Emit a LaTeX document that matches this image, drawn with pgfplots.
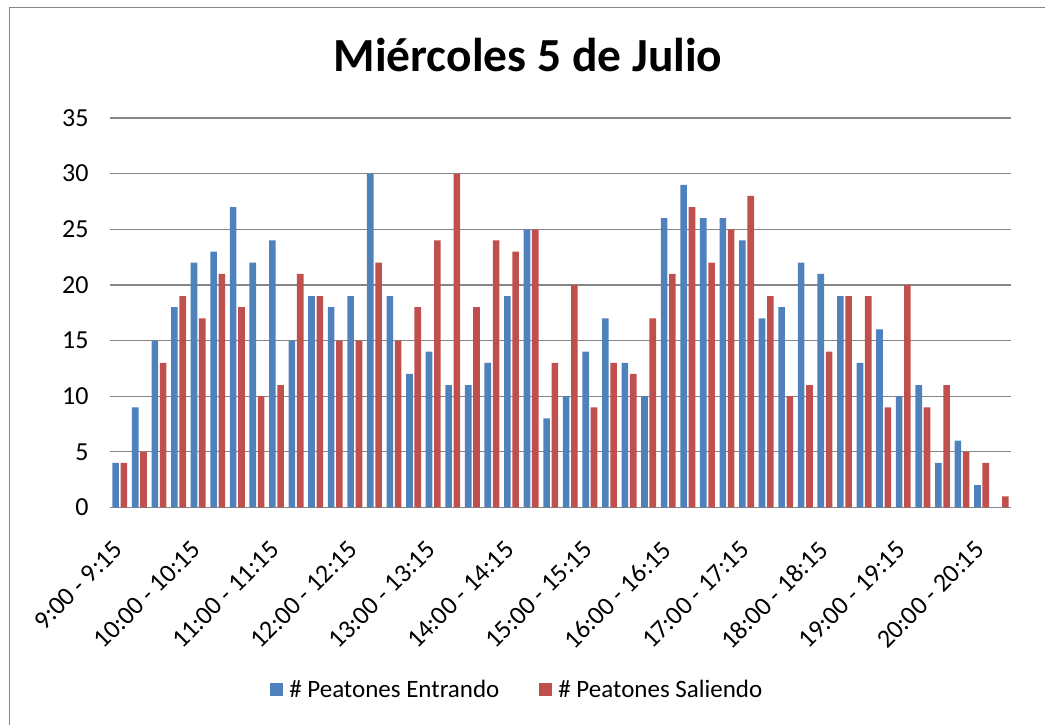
\documentclass[border=0pt]{standalone}
\usepackage{fontspec}
\setmainfont{Carlito}
\usepackage{pgfplots}
\usepackage{pgfplotstable}
\pgfplotsset{compat=1.18}

\definecolor{xlblue}{HTML}{4F81BD}
\definecolor{xlred}{HTML}{C0504D}
\definecolor{gridgray}{HTML}{868686}

% cuarto de hora, entrando, saliendo
\pgfplotstableread{
q  ent sal
0  4   4
1  9   5
2  15  13
3  18  19
4  22  17
5  23  21
6  27  18
7  22  10
8  24  11
9  15  21
10 19  19
11 18  15
12 19  15
13 30  22
14 19  15
15 12  18
16 14  24
17 11  30
18 11  18
19 13  24
20 19  23
21 25  25
22 8   13
23 10  20
24 14  9
25 17  13
26 13  12
27 10  17
28 26  21
29 29  27
30 26  22
31 26  25
32 24  28
33 17  19
34 18  10
35 22  11
36 21  14
37 19  19
38 13  19
39 16  9
40 10  20
41 11  9
42 4   11
43 6   5
44 2   4
45 0   1
}\peatones

\begin{document}
\begin{tikzpicture}[x=1pt,y=1pt]
\path[use as bounding box] (0,0) rectangle (1045,725);
\draw[gridgray, line width=1.2pt] (9.5,0) -- (9.5,717.5) -- (1045,717.5);

\node[anchor=base, font=\fontsize{47.5}{52}\selectfont\bfseries] at (528,653) {Miércoles 5 de Julio};

\begin{axis}[
    at={(110pt,217.5pt)}, anchor=south west,
    scale only axis,
    width=901pt, height=389.5pt,
    ybar=1.7pt, bar width=6.6pt,
    xmin=-0.5, xmax=45.5,
    ymin=0, ymax=35,
    ytick={0,5,...,35},
    xtick={0,4,...,44},
    xticklabels={9:00 - 9:15, 10:00 - 10:15, 11:00 - 11:15, 12:00 - 12:15,
                 13:00 - 13:15, 14:00 - 14:15, 15:00 - 15:15, 16:00 - 16:15,
                 17:00 - 17:15, 18:00 - 18:15, 19:00 - 19:15, 20:00 - 20:15},
    major tick length=0pt,
    axis line style={draw=none},
    ymajorgrids,
    grid style={gridgray, line width=1.2pt},
    /pgf/number format/assume math mode=true,
    tick label style={font=\fontsize{26}{30}\selectfont},
    yticklabel style={anchor=east, xshift=-18pt},
    xticklabel style={xshift=-8pt, yshift=-27pt, rotate=45, anchor=north east},
    legend columns=2,
    legend style={at={(0.452,-0.4685)}, anchor=center, draw=none,
                  font=\fontsize{25}{30}\selectfont,
                  /tikz/every even column/.append style={column sep=38pt}},
    legend image code/.code={\fill[#1] (0pt,-6.5pt) rectangle (13pt,6.5pt);
                             \path (17pt,0pt);},
]
\addplot[fill=xlblue, draw=none] table[x=q, y=ent] {\peatones};
\addplot[fill=xlred, draw=none] table[x=q, y=sal] {\peatones};
\legend{\# Peatones Entrando, \# Peatones Saliendo}
\end{axis}
\end{tikzpicture}
\end{document}
